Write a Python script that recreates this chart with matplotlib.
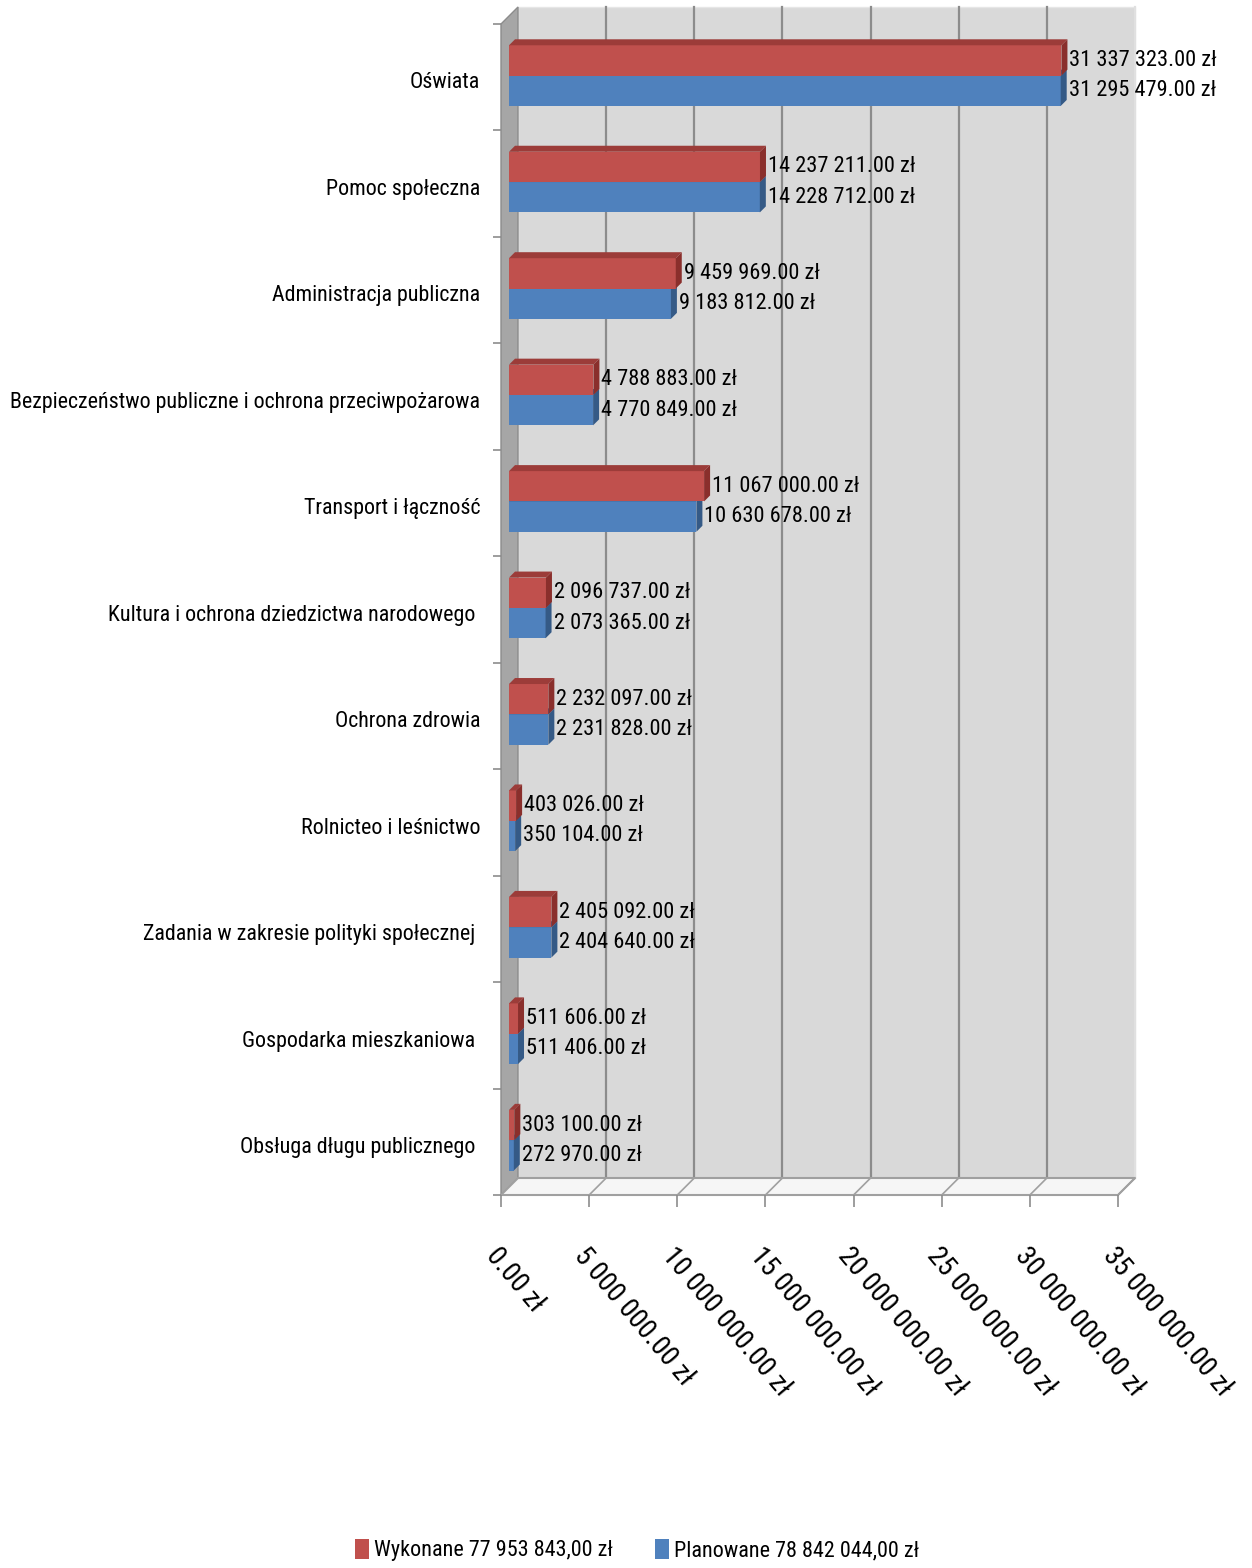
import matplotlib
matplotlib.use("Agg")
import matplotlib.pyplot as plt
from matplotlib.patches import Polygon, Patch
from matplotlib import font_manager as fm
from matplotlib.textpath import TextPath
import numpy as np

categories = ["Oświata", "Pomoc społeczna", "Administracja publiczna",
              "Bezpieczeństwo publiczne i ochrona przeciwpożarowa",
              "Transport i łączność", "Kultura i ochrona dziedzictwa narodowego ",
              "Ochrona zdrowia", "Rolnicteo i leśnictwo",
              "Zadania w zakresie polityki społecznej ", "Gospodarka mieszkaniowa ",
              "Obsługa długu publicznego "]
red_values = [31337323, 14237211, 9459969, 4788883, 11067000, 2096737,
              2232097, 403026, 2405092, 511606, 303100]
blue_values = [31295479, 14228712, 9183812, 4770849, 10630678, 2073365,
               2231828, 350104, 2404640, 511406, 272970]
legend_labels = ["Wykonane 77 953 843,00 zł", "Planowane 78 842 044,00 zł"]
xticks = [0, 5e6, 10e6, 15e6, 20e6, 25e6, 30e6, 35e6]

RED, RED_TOP, RED_SIDE = "#C0504D", "#9C3C39", "#8A2F2C"
BLUE, BLUE_TOP, BLUE_SIDE = "#4F81BD", "#41699A", "#355A86"


def pick_font():
    regular = [f for f in fm.fontManager.ttflist
               if f.style == "normal" and f.weight in (400, "normal", "regular")]
    prefs = [
        lambda f: f.name == "Liberation Sans Narrow",
        lambda f: "Roboto Condensed" in f.name,
        lambda f: "dejavusanscondensed.ttf" in f.fname.lower(),
        lambda f: ("Condensed" in f.name or "Narrow" in f.name),
        lambda f: f.stretch in ("condensed", "semi-condensed", "extra-condensed"),
    ]
    for p in prefs:
        for f in regular:
            try:
                if p(f):
                    return fm.FontProperties(fname=f.fname)
            except Exception:
                pass
    return fm.FontProperties(family="DejaVu Sans")


BASE = pick_font()


def sized(sample, target_px, cap=None):
    w1 = TextPath((0, 0), sample, size=1, prop=BASE).get_extents().width
    s = target_px * 0.72 / w1
    if cap is not None:
        s = min(s, cap)
    fp = BASE.copy()
    fp.set_size(s)
    return fp


def fmt(v):
    return "{:,.2f}".format(v).replace(",", " ") + " zł"


FP_VAL = sized("31 337 323.00 zł", 146, cap=24)
FP_CAT = sized("Bezpieczeństwo publiczne i ochrona przeciwpożarowa", 468, cap=24)
FP_TICK = sized("5 000 000.00 zł", 168, cap=26)
FP_LEG = sized("Wykonane 77 953 843,00 zł", 238, cap=24)

W, H = 1252, 1568
fig = plt.figure(figsize=(W/100, H/100), dpi=100)
ax = fig.add_axes([501/W, 1-1195/H, 617/W, (1195-24)/H])
n = len(categories)
XMAX = 35e6
ax.set_xlim(0, XMAX)
ax.set_ylim(n, 0)

pxx = XMAX/617.0
pxy = n/1171.0
DX, DY = 17*pxx, 17*pxy
FX = 8*pxx
BX, BY = 6*pxx, 6*pxy

# walls
ax.add_patch(Polygon([(DX, -DY), (XMAX+DX, -DY), (XMAX+DX, n-DY), (DX, n-DY)],
                     closed=True, facecolor="#D9D9D9", edgecolor="#E6E6E6", lw=1,
                     clip_on=False, zorder=0))
ax.add_patch(Polygon([(0, 0), (DX, -DY), (DX, n-DY), (0, n)], closed=True,
                     facecolor="#A6A6A6", edgecolor="#8C8C8C", lw=1, clip_on=False, zorder=1))
ax.add_patch(Polygon([(0, n), (XMAX, n), (XMAX+DX, n-DY), (DX, n-DY)], closed=True,
                     facecolor="#F6F6F6", edgecolor="#A0A0A0", lw=1.5, clip_on=False, zorder=1))
for t in xticks[1:]:
    c = "#8C8C8C" if t < XMAX else "#E0E0E0"
    ax.plot([t+DX, t+DX], [-DY, n-DY], color=c, lw=1.6, clip_on=False, zorder=0.5)
    ax.plot([t+DX, t], [n-DY, n], color="#A0A0A0", lw=1.2, clip_on=False, zorder=1.5)

# bars
hgt = 0.285
y_red = np.arange(n) + 0.2 + hgt/2
y_blue = np.arange(n) + 0.2 + hgt + hgt/2


def draw_bar(yc, v, front, top, side, z):
    ax.barh([yc], [v], height=hgt, left=FX, color=front, zorder=z)
    y0, y1 = yc - hgt/2, yc + hgt/2
    ax.add_patch(Polygon([(FX, y0), (FX+v, y0), (FX+v+BX, y0-BY), (FX+BX, y0-BY)],
                         closed=True, facecolor=top, edgecolor="none", zorder=z, clip_on=False))
    ax.add_patch(Polygon([(FX+v, y0), (FX+v+BX, y0-BY), (FX+v+BX, y1-BY), (FX+v, y1)],
                         closed=True, facecolor=side, edgecolor="none", zorder=z, clip_on=False))


for i in range(n):
    draw_bar(y_blue[i], blue_values[i], BLUE, BLUE_TOP, BLUE_SIDE, 2)
    draw_bar(y_red[i], red_values[i], RED, RED_TOP, RED_SIDE, 3)
    ax.text(FX + red_values[i] + BX + 2*pxx, y_red[i], fmt(red_values[i]),
            ha="left", va="center", fontproperties=FP_VAL, zorder=5, clip_on=False)
    ax.text(FX + blue_values[i] + BX + 2*pxx, y_blue[i], fmt(blue_values[i]),
            ha="left", va="center", fontproperties=FP_VAL, zorder=5, clip_on=False)

for s in ax.spines.values():
    s.set_visible(False)
ax.set_facecolor("none")

ax.set_yticks(np.arange(n) + 0.53)
ax.set_yticklabels(categories, fontproperties=FP_CAT)
ax.set_yticks(np.arange(n+1), minor=True)
ax.tick_params(axis="y", which="major", length=0, pad=15)
ax.tick_params(axis="y", which="minor", length=6, color="#8C8C8C", width=1.2)

ax.set_xticks(xticks)
ax.set_xticklabels([fmt(t) for t in xticks], fontproperties=FP_TICK, rotation=-50,
                   ha="left", va="top", rotation_mode="anchor")
ax.tick_params(axis="x", length=8.5, color="#8C8C8C", width=1.2, pad=26)

handles = [Patch(facecolor=RED), Patch(facecolor=BLUE)]
fig.legend(handles, legend_labels, loc="center", bbox_to_anchor=(0.509, 0.0115),
           ncol=2, frameon=False, prop=FP_LEG, handlelength=0.6, handleheight=1.0,
           handletextpad=0.25, columnspacing=1.9)

fig.savefig("out.png", dpi=100, facecolor="white")
